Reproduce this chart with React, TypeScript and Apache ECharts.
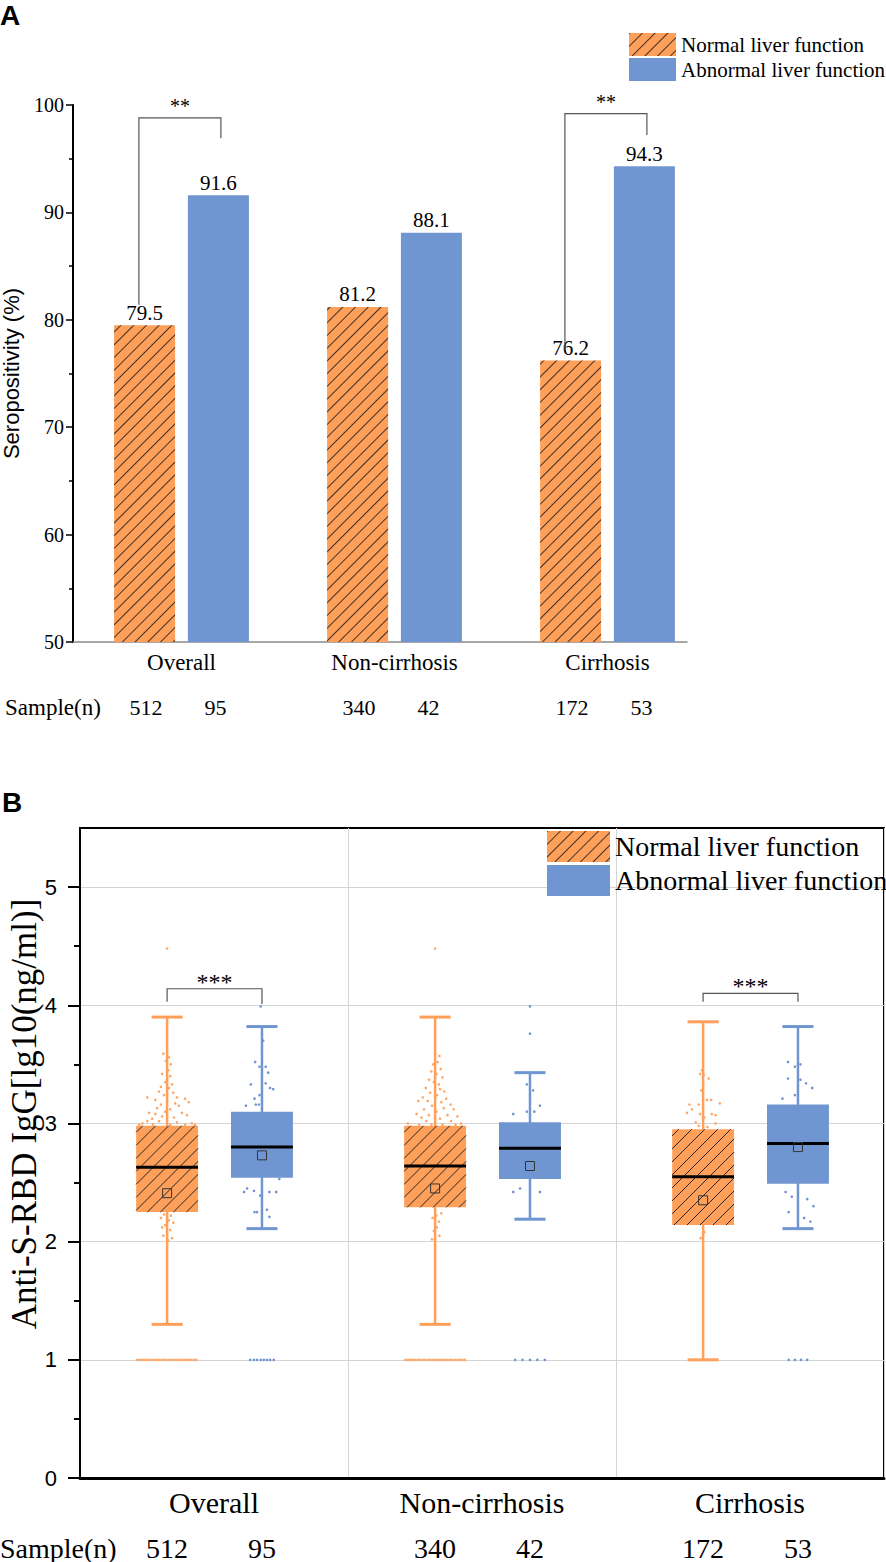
import React, { useEffect, useRef } from 'react';
import * as echarts from 'echarts';

// ---------------- data ----------------
const categories = ['Overall', 'Non-cirrhosis', 'Cirrhosis'];
const seriesNames = ['Normal liver function', 'Abnormal liver function'];

// Panel A: seropositivity (%)
const seroNormal = [79.5, 81.2, 76.2];
const seroAbnormal = [91.6, 88.1, 94.3];
const sampleNormal = [512, 340, 172];
const sampleAbnormal = [95, 42, 53];

// significance brackets: [category, left end, top, right end]
const sigA = [
  [0, 81.4, 98.8, 96.9],
  [2, 77.2, 99.2, 97.2],
];
const sigALabels = ['**', '**'];
const sigB = [
  [0, 4.03, 4.14, 4.01],
  [2, 4.03, 4.10, 4.03],
];
const sigBLabels = ['***', '***'];

// Panel B tick values
const igTicks = [0, 1, 2, 3, 4, 5];
const igMinorTicks = [0.5, 1.5, 2.5, 3.5, 4.5];

// Panel B box stats: [low whisker, Q1, median, Q3, high whisker, mean]
const boxNormal = [
  [1.30, 2.25, 2.63, 2.98, 3.90, 2.41],
  [1.30, 2.29, 2.64, 2.98, 3.90, 2.45],
  [1.00, 2.14, 2.55, 2.95, 3.86, 2.35],
];
const boxAbnormal = [
  [2.11, 2.54, 2.80, 3.10, 3.82, 2.73],
  [2.19, 2.53, 2.79, 3.01, 3.43, 2.64],
  [2.11, 2.49, 2.83, 3.16, 3.82, 2.80],
];

// Panel B individual points: [jitter (share of box width), value]
const ptsNormalOverall = [
  [-0.06, 3.59], [0.03, 3.56], [-0.02, 3.53], [0.06, 3.5], [-0.05, 3.47], [0.02, 3.45], [-0.08, 3.42], [0.05, 3.4],
  [0, 3.38], [-0.03, 3.35], [0.08, 3.33], [-0.1, 3.31], [0.03, 3.3], [-0.13, 3.27], [0.1, 3.26], [-0.05, 3.24],
  [0.16, 3.22], [-0.19, 3.2], [0, 3.19], [0.13, 3.17], [-0.1, 3.16], [0.19, 3.15], [-0.16, 3.13], [0.05, 3.12],
  [-0.03, 3.1], [-0.32, 3.22], [0.29, 3.21], [-0.24, 3.25], [0.35, 3.18], [-0.29, 3.09], [-0.19, 3.08], [0.24, 3.09],
  [0.32, 3.07], [-0.08, 3.06], [0.11, 3.05], [-0.24, 3.04], [0.27, 3.03], [-0.32, 3.02], [-0.13, 3.02], [0.16, 3.01],
  [0.4, 3.0], [-0.4, 3.0], [0.05, 2.99], [-0.23, 2.99], [0.29, 2.99], [0.45, 2.99], [-0.45, 2.99],
  [-0.05, 2.23], [0.06, 2.22], [-0.1, 2.2], [0.03, 2.18], [0.1, 2.16], [-0.03, 2.14], [-0.08, 2.12], [0.05, 2.1],
  [0, 2.08], [-0.06, 2.05], [0.08, 2.03], [0.02, 2.01], [0, 4.48],
  [-0.48, 1], [-0.45, 1], [-0.41, 1], [-0.37, 1], [-0.33, 1], [-0.29, 1], [-0.25, 1], [-0.21, 1], [-0.17, 1],
  [-0.13, 1], [-0.09, 1], [-0.05, 1], [-0.01, 1], [0.03, 1], [0.07, 1], [0.11, 1], [0.15, 1], [0.19, 1],
  [0.23, 1], [0.27, 1], [0.31, 1], [0.35, 1], [0.39, 1], [0.43, 1], [0.47, 1],
];
const ptsNormalNon = [
  [0, 3.59], [0.07, 3.57], [0.04, 3.52], [-0.03, 3.5], [0.09, 3.46], [-0.06, 3.44], [0.02, 3.42], [0.12, 3.39],
  [-0.1, 3.37], [-0.02, 3.35], [0.06, 3.33], [-0.15, 3.3], [0.08, 3.29], [0.15, 3.27], [-0.08, 3.26], [0.03, 3.24],
  [-0.2, 3.22], [0.18, 3.21], [-0.12, 3.19], [0.1, 3.18], [-0.27, 3.19], [0.25, 3.16], [-0.05, 3.15], [0.14, 3.13],
  [-0.18, 3.12], [0.3, 3.12], [0.02, 3.1], [-0.3, 3.08], [-0.1, 3.07], [0.2, 3.07], [0.36, 3.06], [-0.22, 3.05],
  [0.08, 3.04], [-0.38, 3.03], [0.26, 3.02], [-0.14, 3.02], [0.42, 3.0], [-0.44, 3.0], [0.12, 2.99], [-0.26, 2.99],
  [0.33, 2.99], [-0.06, 2.99],
  [-0.08, 2.26], [0.1, 2.24], [0.02, 2.22], [-0.04, 2.2], [0.06, 2.17], [-0.1, 2.15], [0.03, 2.12], [-0.02, 2.09],
  [0.07, 2.05], [-0.05, 2.02], [0, 4.48],
  [-0.48, 1], [-0.44, 1], [-0.4, 1], [-0.36, 1], [-0.32, 1], [-0.28, 1], [-0.24, 1], [-0.2, 1], [-0.16, 1],
  [-0.12, 1], [-0.08, 1], [-0.04, 1], [0, 1], [0.04, 1], [0.08, 1], [0.12, 1], [0.16, 1], [0.2, 1],
  [0.24, 1], [0.28, 1], [0.32, 1], [0.36, 1], [0.4, 1], [0.44, 1], [0.48, 1],
];
const ptsNormalCirr = [
  [-0.03, 3.58], [0.05, 3.58], [-0.02, 3.45], [-0.05, 3.42], [0.01, 3.41], [0.09, 3.38], [0, 3.33], [-0.03, 3.28],
  [0.06, 3.2], [0.13, 3.2], [-0.22, 3.16], [-0.07, 3.16], [0.27, 3.17], [-0.18, 3.12], [-0.26, 3.09], [-0.05, 3.08],
  [0.14, 3.08], [0.2, 3.07], [0.02, 3.05], [-0.23, 3.03], [-0.12, 3.01], [0.2, 3.0], [-0.07, 2.98], [0.07, 2.97],
  [0.02, 2.08], [-0.04, 2.03],
];
const ptsAbnormalOverall = [
  [0.02, 3.7], [-0.11, 3.52], [-0.04, 3.48], [0.06, 3.48], [0.1, 3.43], [-0.18, 3.33], [0.04, 3.36], [0.06, 3.34],
  [0.13, 3.3], [0.18, 3.29], [-0.12, 3.21], [-0.04, 3.24], [-0.26, 3.15], [-0.1, 3.16], [-0.05, 3.16],
  [-0.24, 2.45], [-0.29, 2.42], [-0.13, 2.43], [-0.03, 2.39], [0.12, 2.42], [0.23, 2.42], [0.28, 2.53],
  [-0.12, 2.25], [-0.08, 2.25], [0.08, 2.27], [0.12, 2.21], [-0.02, 3.99],
  [-0.19, 1], [-0.13, 1], [-0.08, 1], [-0.02, 1], [0.03, 1], [0.08, 1], [0.13, 1], [0.19, 1],
];
const ptsAbnormalNon = [
  [0, 3.99], [0, 3.76], [-0.05, 3.33], [0.05, 3.28], [-0.27, 3.08], [-0.16, 3.03], [-0.05, 3.1], [0.07, 3.1],
  [0.16, 3.15], [-0.27, 2.42], [-0.16, 2.45], [0.16, 2.42],
  [-0.24, 1], [-0.12, 1], [0, 1], [0.12, 1], [0.24, 1],
];
const ptsAbnormalCirr = [
  [-0.16, 3.52], [-0.05, 3.48], [0.04, 3.5], [0.13, 3.47], [-0.16, 3.38], [0.04, 3.37], [0.13, 3.34], [0.23, 3.3],
  [-0.25, 3.21], [-0.05, 3.24],
  [-0.2, 2.42], [-0.1, 2.38], [0.15, 2.36], [0.25, 2.3], [-0.15, 2.25], [0.1, 2.2], [0.2, 2.17],
  [-0.15, 1], [-0.05, 1], [0.05, 1], [0.15, 1],
];
const ptsNormal = [ptsNormalOverall, ptsNormalNon, ptsNormalCirr];
const ptsAbnormal = [ptsAbnormalOverall, ptsAbnormalNon, ptsAbnormalCirr];

// ---------------- styles ----------------
const SERIF = '"Liberation Serif", "Times New Roman", serif';
const SANS = '"Liberation Sans", Arial, sans-serif';
const ORANGE = '#FFA05A';
const BLUE = '#7096D2';
const ORANGE_PT = '#FFA563';
const BLUE_PT = '#6E92CE';

const BOX_OFFSET = [-0.175, 0.179]; // share of category band
const BOX_WIDTH = 0.231;
const CAP_WIDTH = 0.116;

function boxRenderer(group: number, color: string, hatch: boolean) {
  return (params: any, api: any) => {
    const cat = api.value(0);
    const band = api.size([1, 0])[0];
    const cx = api.coord([cat, 0])[0] + BOX_OFFSET[group] * band;
    const bw = BOX_WIDTH * band;
    const cw = CAP_WIDTH * band;
    const Y = (k: number) => api.coord([cat, api.value(k)])[1];
    const low = Y(1), q1 = Y(2), med = Y(3), q3 = Y(4), high = Y(5), mean = Y(6);
    const x0 = cx - bw / 2, x1 = cx + bw / 2;
    const children: any[] = [
      { type: 'line', shape: { x1: cx, y1: high, x2: cx, y2: low }, style: { stroke: color, lineWidth: 2.5 } },
      { type: 'line', shape: { x1: cx - cw / 2, y1: high, x2: cx + cw / 2, y2: high }, style: { stroke: color, lineWidth: 3 } },
      { type: 'line', shape: { x1: cx - cw / 2, y1: low, x2: cx + cw / 2, y2: low }, style: { stroke: color, lineWidth: 3 } },
      { type: 'rect', shape: { x: x0, y: q3, width: bw, height: q1 - q3 }, style: { fill: color } },
    ];
    if (hatch) {
      const step = 13;
      for (let c = x0 + q3 + step / 2; c < x1 + q1; c += step) {
        const xa = Math.max(x0, c - q1);
        const xb = Math.min(x1, c - q3);
        if (xb - xa > 0.5) {
          children.push({
            type: 'line',
            shape: { x1: xa, y1: c - xa, x2: xb, y2: c - xb },
            style: { stroke: '#262626', lineWidth: 1 },
          });
        }
      }
    }
    children.push({ type: 'line', shape: { x1: x0, y1: med, x2: x1, y2: med }, style: { stroke: '#000', lineWidth: 3 } });
    children.push({
      type: 'rect',
      shape: { x: cx - 4.5, y: mean - 4.5, width: 9, height: 9 },
      style: { fill: 'none', stroke: '#333', lineWidth: 1 },
    });
    return { type: 'group', children };
  };
}

function pointRenderer(group: number, color: string) {
  return (params: any, api: any) => {
    const cat = api.value(0);
    const band = api.size([1, 0])[0];
    const p = api.coord([cat, api.value(2)]);
    const cx = p[0] + BOX_OFFSET[group] * band + api.value(1) * BOX_WIDTH * band;
    return { type: 'circle', shape: { cx, cy: p[1], r: 1.3 }, style: { fill: color } };
  };
}

function bracketRenderer(offsets: number[], labels: string[], fontSize: number, gap: number) {
  return (params: any, api: any) => {
    const cat = api.value(0);
    const band = api.size([1, 0])[0];
    const cx = api.coord([cat, api.value(2)])[0];
    const xl = cx + offsets[0] * band;
    const xr = cx + offsets[1] * band;
    const yl = api.coord([cat, api.value(1)])[1];
    const yt = api.coord([cat, api.value(2)])[1];
    const yr = api.coord([cat, api.value(3)])[1];
    return {
      type: 'group',
      children: [
        {
          type: 'polyline',
          shape: { points: [[xl, yl], [xl, yt], [xr, yt], [xr, yr]] },
          style: { stroke: '#555', lineWidth: 1.2, fill: 'none' },
        },
        {
          type: 'text',
          x: (xl + xr) / 2,
          y: yt - gap,
          style: {
            text: labels[params.dataIndex], fontSize, fontFamily: SERIF, fill: '#000',
            align: 'center', verticalAlign: 'middle',
          },
        },
      ],
    };
  };
}

function sampleRenderer(offsets: number[], fontSize: number, dy: number) {
  return (params: any, api: any) => {
    const cat = api.value(0);
    const band = api.size([1, 0])[0];
    const cs = params.coordSys;
    const cx = api.coord([cat, api.value(1)])[0];
    const y = cs.y + cs.height + dy;
    return {
      type: 'group',
      children: [1, 2].map((k, j) => ({
        type: 'text',
        x: cx + offsets[j] * band,
        y,
        style: {
          text: String(api.value(k)), fontSize, fontFamily: SERIF, fill: '#000',
          align: 'center', verticalAlign: 'middle',
        },
      })),
    };
  };
}

const hatchDecal = {
  symbol: 'rect',
  symbolSize: 1,
  color: 'rgba(20,20,20,0.8)',
  dashArrayX: [1, 0],
  dashArrayY: [1, 8],
  rotation: -Math.PI / 4,
};

function buildOption() {
  const boxData = (stats: number[][]) => stats.map((s, i) => [i, ...s]);
  const ptsData = (groups: number[][][]) => {
    const out: number[][] = [];
    groups.forEach((g, i) => g.forEach((p) => out.push([i, p[0], p[1]])));
    return out;
  };
  const sampleData = categories.map((_, i) => [i, sampleNormal[i], sampleAbnormal[i]]);
  const barLabel = { show: true, position: 'top', distance: 2, fontSize: 21, fontFamily: SERIF, color: '#000' };

  return {
    animation: false,
    backgroundColor: '#fff',
    grid: [
      { left: 75, right: 172, top: 105, bottom: 920, outerBoundsMode: 'none' },
      { left: 73, right: 199, top: 105, bottom: 920, outerBoundsMode: 'none' },
      {
        left: 80, right: 2, top: 828, bottom: 84, show: true, borderColor: '#000', borderWidth: 2,
        backgroundColor: 'transparent', outerBoundsMode: 'none',
      },
    ],
    legend: [
      {
        data: seriesNames, orient: 'vertical', left: 629, top: 33, itemWidth: 47, itemHeight: 23, itemGap: 2,
        padding: 0, icon: 'rect', selectedMode: false,
        textStyle: { fontSize: 21, fontFamily: SERIF, color: '#000' },
      },
      {
        data: seriesNames, orient: 'vertical', left: 547, top: 831, itemWidth: 63, itemHeight: 31, itemGap: 3,
        padding: 0, icon: 'rect', selectedMode: false,
        textStyle: { fontSize: 28, fontFamily: SERIF, color: '#000' },
      },
    ],
    xAxis: [
      {
        gridIndex: 0, type: 'category', data: categories,
        axisLine: { show: false }, axisTick: { show: false }, splitLine: { show: false },
        axisLabel: { fontSize: 23, fontFamily: SERIF, color: '#000', margin: 9 },
      },
      {
        gridIndex: 1, type: 'value', min: 0, max: 1,
        axisLine: { show: true, onZero: false, lineStyle: { color: '#8a8a8a', width: 1.5 } },
        axisTick: { show: false }, axisLabel: { show: false }, splitLine: { show: false },
      },
      {
        gridIndex: 2, type: 'category', data: categories,
        axisLine: { show: true, lineStyle: { color: '#000', width: 3 } },
        axisTick: { show: false },
        axisLabel: { fontSize: 30, fontFamily: SERIF, color: '#000', margin: 9 },
        splitLine: { show: true, lineStyle: { color: '#d4d4d4', width: 1 } },
      },
    ],
    yAxis: [
      {
        gridIndex: 1, type: 'value', min: 50, max: 100, interval: 10, position: 'left',
        name: 'Seropositivity (%)', nameLocation: 'middle', nameGap: 51,
        nameTextStyle: { fontSize: 22, fontFamily: SANS, color: '#000' },
        axisLine: { show: true, lineStyle: { color: '#000', width: 2 } },
        axisTick: { show: true, inside: false, length: 7, lineStyle: { color: '#000', width: 1.5 } },
        minorTick: { show: true, splitNumber: 2, length: 4, lineStyle: { color: '#000', width: 1.5 } },
        axisLabel: { fontSize: 20, fontFamily: SERIF, color: '#000', margin: 9 },
        splitLine: { show: false },
      },
      { gridIndex: 0, type: 'value', min: 50, max: 100, interval: 10, show: false },
      {
        gridIndex: 2, type: 'value', min: 0, max: 5.5, interval: 1, position: 'left',
        axisLine: { show: true, lineStyle: { color: '#000', width: 2 } },
        axisTick: { show: true, inside: false, length: 12, customValues: igTicks, lineStyle: { color: '#000', width: 2 } },
        axisLabel: { fontSize: 22, fontFamily: SANS, color: '#000', margin: 23, customValues: igTicks },
        splitLine: { show: true, lineStyle: { color: '#d4d4d4', width: 1 } },
      },
      {
        gridIndex: 2, type: 'value', min: 0, max: 5.5, position: 'left', offset: 0,
        axisLine: { show: false },
        axisTick: { show: true, inside: false, length: 6, customValues: igMinorTicks, lineStyle: { color: '#000', width: 2 } },
        axisLabel: { show: false }, splitLine: { show: false },
      },
    ],
    graphic: [
      { type: 'text', x: 0, y: 15, style: { text: 'A', fontSize: 28, fontWeight: 'bold', fontFamily: SANS, fill: '#000', verticalAlign: 'middle' } },
      { type: 'text', x: 2, y: 802, style: { text: 'B', fontSize: 28, fontWeight: 'bold', fontFamily: SANS, fill: '#000', verticalAlign: 'middle' } },
      { type: 'text', x: 5, y: 707, style: { text: 'Sample(n)', fontSize: 23, fontFamily: SERIF, fill: '#000', verticalAlign: 'middle' } },
      { type: 'text', x: 0, y: 1548, style: { text: 'Sample(n)', fontSize: 28, fontFamily: SERIF, fill: '#000', verticalAlign: 'middle' } },
      {
        type: 'text', x: 24, y: 1114, rotation: Math.PI / 2,
        style: {
          text: 'Anti-S-RBD IgG[lg10(ng/ml)]', fontSize: 35, fontFamily: SERIF, fill: '#000',
          align: 'center', verticalAlign: 'middle',
        },
      },
    ],
    series: [
      {
        type: 'bar', name: seriesNames[0], xAxisIndex: 0, yAxisIndex: 1, data: seroNormal,
        barWidth: 61, barGap: '21%', itemStyle: { color: ORANGE, decal: hatchDecal }, label: barLabel,
      },
      {
        type: 'bar', name: seriesNames[1], xAxisIndex: 0, yAxisIndex: 1, data: seroAbnormal,
        barWidth: 61, barGap: '21%', itemStyle: { color: BLUE }, label: barLabel,
      },
      {
        type: 'custom', name: 'sigA', xAxisIndex: 0, yAxisIndex: 1, data: sigA, encode: { x: 0, y: 2 },
        renderItem: bracketRenderer([-0.2, 0.185], sigALabels, 20, 12), z: 5,
      },
      {
        type: 'custom', name: 'sampleA', xAxisIndex: 0, yAxisIndex: 1, data: sampleData, encode: { x: 0, y: 1 },
        renderItem: sampleRenderer([-0.167, 0.16], 22, 65), z: 5,
      },
      {
        type: 'custom', name: 'ptsNormal', xAxisIndex: 2, yAxisIndex: 2, data: ptsData(ptsNormal), encode: { x: 0, y: 2 },
        renderItem: pointRenderer(0, ORANGE_PT), z: 2,
      },
      {
        type: 'custom', name: 'ptsAbnormal', xAxisIndex: 2, yAxisIndex: 2, data: ptsData(ptsAbnormal), encode: { x: 0, y: 2 },
        renderItem: pointRenderer(1, BLUE_PT), z: 2,
      },
      {
        type: 'custom', name: 'boxNormal', xAxisIndex: 2, yAxisIndex: 2, data: boxData(boxNormal), encode: { x: 0, y: 3 },
        renderItem: boxRenderer(0, ORANGE, true), z: 3,
      },
      {
        type: 'custom', name: 'boxAbnormal', xAxisIndex: 2, yAxisIndex: 2, data: boxData(boxAbnormal), encode: { x: 0, y: 3 },
        renderItem: boxRenderer(1, BLUE, false), z: 3,
      },
      {
        type: 'custom', name: 'sigB', xAxisIndex: 2, yAxisIndex: 2, data: sigB, encode: { x: 0, y: 2 },
        renderItem: bracketRenderer([BOX_OFFSET[0], BOX_OFFSET[1]], sigBLabels, 24, 7), z: 5,
      },
      {
        type: 'custom', name: 'sampleB', xAxisIndex: 2, yAxisIndex: 2, data: sampleData, encode: { x: 0, y: 1 },
        renderItem: sampleRenderer(BOX_OFFSET, 28, 70), z: 5,
      },
    ],
  };
}

export default function App() {
  const ref = useRef<HTMLDivElement>(null);
  useEffect(() => {
    document.body.style.margin = '0';
    if (!ref.current) return;
    const chart = echarts.init(ref.current, null, { renderer: 'svg' });
    chart.setOption(buildOption() as any);
    return () => chart.dispose();
  }, []);
  return <div ref={ref} style={{ width: 886, height: 1562, background: '#fff' }} />;
}
